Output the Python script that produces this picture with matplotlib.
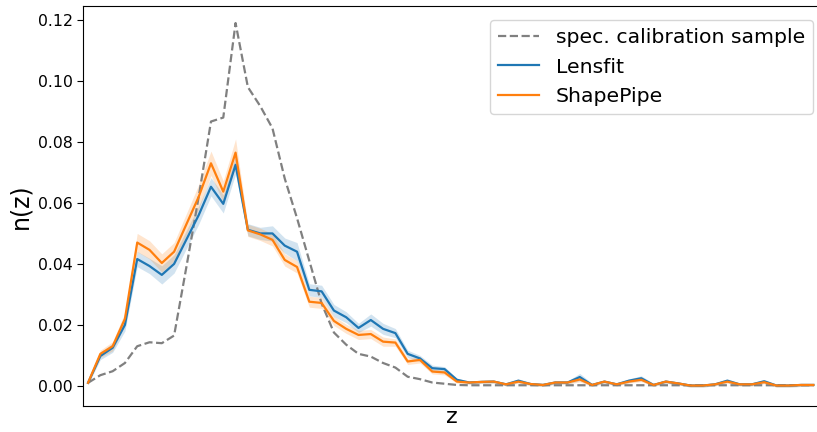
import numpy as np
import matplotlib
matplotlib.use('Agg')
import matplotlib.pyplot as plt

# redshift bins (bin centres)
z = np.round(np.arange(60) * 0.05 + 0.025, 3)

n_spec = [0.001, 0.0035, 0.0048, 0.0075, 0.013, 0.0143, 0.014, 0.0165, 0.039, 0.062,
          0.0867, 0.088, 0.119, 0.098, 0.0918, 0.0845, 0.068, 0.055, 0.041, 0.027,
          0.0175, 0.0135, 0.0105, 0.0096, 0.0075, 0.006, 0.003, 0.0022, 0.0011, 0.0007,
          0.0003, 0.0002, 0.0002, 0.0002, 0.0002, 0.0002, 0.0002, 0.0002, 0.0002, 0.0002,
          0.0002, 0.0002, 0.0002, 0.0002, 0.0002, 0.0002, 0.0002, 0.0002, 0.0002, 0.0002,
          0.0002, 0.0002, 0.0002, 0.0002, 0.0002, 0.0002, 0.0002, 0.0002, 0.0002, 0.0002]

n_lensfit = [0.001, 0.0098, 0.0125, 0.020, 0.0416, 0.0393, 0.0364, 0.040, 0.048, 0.056,
             0.0653, 0.0597, 0.0725, 0.0512, 0.050, 0.050, 0.046, 0.044, 0.0315, 0.031,
             0.0247, 0.0225, 0.019, 0.0216, 0.0187, 0.0173, 0.0105, 0.009, 0.0058, 0.0055,
             0.002, 0.0011, 0.0013, 0.0014, 0.0005, 0.0017, 0.0006, 0.0003, 0.0011, 0.0011,
             0.0029, 0.0003, 0.0014, 0.0005, 0.0017, 0.0025, 0.0003, 0.0014, 0.0008, 0.0001,
             0.0001, 0.0005, 0.0017, 0.0005, 0.0005, 0.0015, 0.0001, 0.0001, 0.0003, 0.0003]

n_shapepipe = [0.001, 0.0105, 0.013, 0.022, 0.047, 0.0446, 0.0403, 0.044, 0.053, 0.062,
               0.073, 0.0637, 0.0765, 0.051, 0.0497, 0.0479, 0.0413, 0.039, 0.0276, 0.0272,
               0.0213, 0.0187, 0.0167, 0.017, 0.0145, 0.0142, 0.008, 0.0085, 0.0047, 0.0044,
               0.0014, 0.0011, 0.0013, 0.0014, 0.0005, 0.0014, 0.0006, 0.0003, 0.0011, 0.0011,
               0.0021, 0.0003, 0.0014, 0.0005, 0.0014, 0.002, 0.0003, 0.0014, 0.0008, 0.0001,
               0.0001, 0.0005, 0.0014, 0.0005, 0.0005, 0.0012, 0.0001, 0.0001, 0.0003, 0.0003]

err_lensfit = [0.0005, 0.0012, 0.0015, 0.002, 0.0025, 0.0025, 0.003, 0.003, 0.003, 0.003,
               0.003, 0.003, 0.003, 0.002, 0.002, 0.0025, 0.0025, 0.003, 0.002, 0.002,
               0.002, 0.0018, 0.0015, 0.002, 0.0018, 0.0015, 0.0012, 0.001, 0.001, 0.0008,
               0.0005, 0.0005, 0.0005, 0.0005, 0.0005, 0.0006, 0.0005, 0.0005, 0.0005, 0.0005,
               0.0012, 0.0005, 0.0005, 0.0005, 0.0006, 0.0008, 0.0005, 0.0005, 0.0005, 0.0005,
               0.0005, 0.0005, 0.0006, 0.0005, 0.0005, 0.0006, 0.0005, 0.0005, 0.0005, 0.0005]

err_shapepipe = [0.0005, 0.0012, 0.0015, 0.002, 0.003, 0.003, 0.003, 0.003, 0.0035, 0.004,
                 0.004, 0.0035, 0.0045, 0.002, 0.002, 0.002, 0.002, 0.002, 0.0018, 0.0018,
                 0.0015, 0.0015, 0.0015, 0.0015, 0.0015, 0.0012, 0.001, 0.001, 0.0008, 0.0008,
                 0.0005, 0.0005, 0.0005, 0.0005, 0.0005, 0.0005, 0.0005, 0.0005, 0.0005, 0.0005,
                 0.0008, 0.0005, 0.0005, 0.0005, 0.0005, 0.0006, 0.0005, 0.0005, 0.0005, 0.0005,
                 0.0005, 0.0005, 0.0005, 0.0005, 0.0005, 0.0005, 0.0005, 0.0005, 0.0005, 0.0005]

n_lensfit = np.array(n_lensfit)
n_shapepipe = np.array(n_shapepipe)
err_lensfit = np.array(err_lensfit)
err_shapepipe = np.array(err_shapepipe)

fig = plt.figure(figsize=(8.17, 4.32), dpi=100)
# right edge of the axes sits just past the image border (cropped original)
ax = fig.add_axes([0.1016, 0.0602, 0.912, 0.926])

ax.plot(z, n_spec, '--', color='gray', lw=1.6, label='spec. calibration sample')
ax.plot(z, n_lensfit, color='C0', lw=1.6, label='Lensfit')
ax.fill_between(z, n_lensfit - err_lensfit, n_lensfit + err_lensfit, color='C0', alpha=0.2, lw=0)
ax.plot(z, n_shapepipe, color='C1', lw=1.6, label='ShapePipe')
ax.fill_between(z, n_shapepipe - err_shapepipe, n_shapepipe + err_shapepipe, color='C1', alpha=0.2, lw=0)

# x-range chosen so the last bins reach the right border
ax.set_xlim(z[0] - 0.41 * 0.05, z[0] + 60.2 * 0.05)
ax.set_ylim(-0.0066, 0.1246)
ax.set_yticks([0.0, 0.02, 0.04, 0.06, 0.08, 0.10, 0.12])
ax.set_xticks([])
ax.tick_params(axis='y', labelsize=11.3, length=4)
ax.set_xlabel('z', fontsize=16, x=0.495, labelpad=1)
ax.set_ylabel('n(z)', fontsize=17)
ax.legend(loc='upper right', fontsize=14.7, bbox_to_anchor=(0.9935, 0.99))

fig.savefig('out.png', dpi=100)
